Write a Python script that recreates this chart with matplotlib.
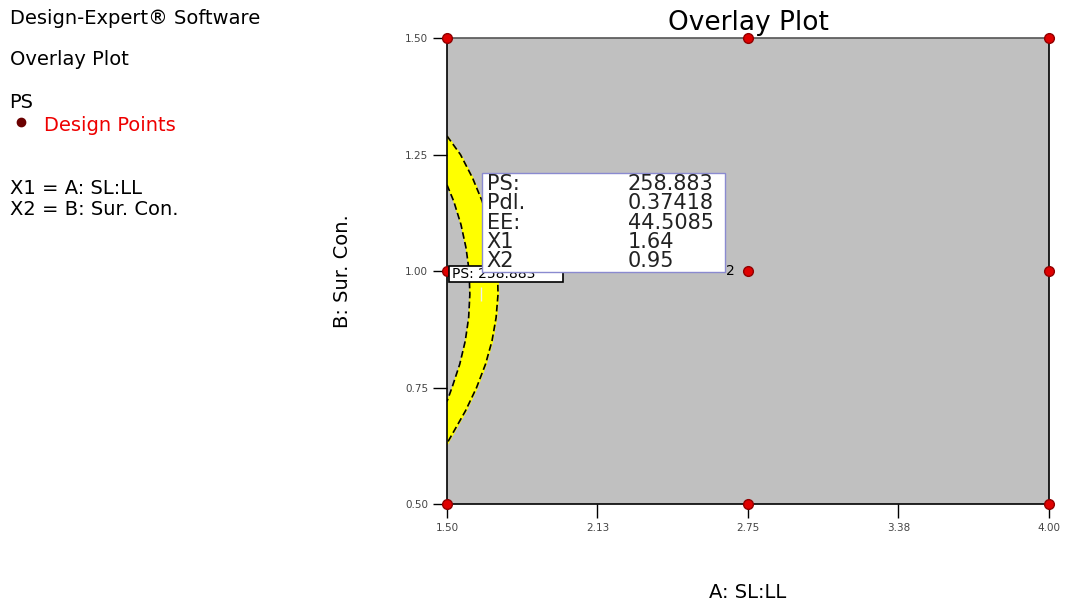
import matplotlib
matplotlib.use("Agg")
import matplotlib.pyplot as plt
import numpy as np

plt.rcParams['font.family'] = ['DejaVu Sans']

# design points (A: SL:LL, B: Sur. Con.)
design_a = [1.50, 2.75, 4.00, 1.50, 4.00, 1.50, 2.75, 4.00]
design_b = [1.50, 1.50, 1.50, 1.00, 1.00, 0.50, 0.50, 0.50]
center_pt = (2.75, 1.00)
center_reps = "2"

# yellow window boundaries (B value -> A value)
outer_b = [1.29, 1.25, 1.20, 1.15, 1.10, 1.05, 1.00, 0.95, 0.90,
           0.85, 0.80, 0.75, 0.70, 0.65, 0.63]
outer_a = [1.500, 1.556, 1.606, 1.646, 1.677, 1.698, 1.710, 1.712, 1.704,
           1.687, 1.660, 1.623, 1.577, 1.522, 1.500]
inner_b = [1.185, 1.15, 1.10, 1.05, 1.00, 0.95, 0.90, 0.85, 0.80, 0.75, 0.72]
inner_a = [1.500, 1.528, 1.558, 1.579, 1.592, 1.595, 1.590, 1.576, 1.553,
           1.521, 1.500]

# flag
flag_pt = (1.64, 0.95)
flag_names = ["PS:", "Pdl.", "EE:", "X1", "X2"]
flag_vals = ["258.883", "0.37418", "44.5085", "1.64", "0.95"]

xticks = [1.50, 2.125, 2.75, 3.375, 4.00]
xtick_labels = ["1.50", "2.13", "2.75", "3.38", "4.00"]
yticks = [0.50, 0.75, 1.00, 1.25, 1.50]
ytick_labels = ["0.50", "0.75", "1.00", "1.25", "1.50"]

fig = plt.figure(figsize=(10.66, 6.05), dpi=100)
ax = fig.add_axes([0.4193, 0.167, 0.5647, 0.770])
ax.set_facecolor("#c0c0c0")
ax.set_xlim(1.5, 4.0)
ax.set_ylim(0.5, 1.5)

# yellow band between inner and outer curve
yy = np.linspace(min(outer_b), max(outer_b), 300)
xo = np.interp(yy, outer_b[::-1], outer_a[::-1])
xi = np.interp(yy, inner_b[::-1], inner_a[::-1])
xi = np.where((yy < min(inner_b)) | (yy > max(inner_b)), 1.5, xi)
ax.fill_betweenx(yy, xi, xo, color="#ffff00", zorder=1)
ax.plot(outer_a, outer_b, color="black", ls=(0, (4, 2)), lw=1.2, zorder=2)
ax.plot(inner_a, inner_b, color="black", ls=(0, (4, 2)), lw=1.2, zorder=2)

# design points
ax.plot(design_a, design_b, "o", ms=7, mfc="#e00000", mec="#900000",
        clip_on=False, zorder=5)
ax.plot(*center_pt, "o", ms=7, mfc="#e00000", mec="#900000", zorder=5)
ax.text(center_pt[0] - 0.055, center_pt[1], center_reps, ha="right",
        va="center", fontsize=10, zorder=5)

# flag marker
ax.plot(*flag_pt, marker="|", ms=10, color="#eeeeee", zorder=6)

# small flag label under the main flag
small = plt.Rectangle((0.003, 0.476), 0.19, 0.035, transform=ax.transAxes,
                      fc="white", ec="black", lw=1.2, zorder=6)
ax.add_patch(small)
ax.text(0.008, 0.493, "PS: 258.883", transform=ax.transAxes, fontsize=10,
        ha="left", va="center", zorder=6)

# main flag box
box = plt.Rectangle((0.058, 0.498), 0.404, 0.212, transform=ax.transAxes,
                    fc="white", ec="#8a8ad0", lw=1, zorder=7)
ax.add_patch(box)
for i, (n, v) in enumerate(zip(flag_names, flag_vals)):
    yf = 0.687 - i * 0.0415
    ax.text(0.066, yf, n, transform=ax.transAxes, fontsize=15,
            va="center", ha="left", color="#222222", zorder=8)
    ax.text(0.300, yf, v, transform=ax.transAxes, fontsize=15,
            va="center", ha="left", color="#222222", zorder=8)

ax.set_xticks(xticks)
ax.set_xticklabels(xtick_labels)
ax.set_yticks(yticks)
ax.set_yticklabels(ytick_labels)
ax.tick_params(direction="out", length=10, width=1, labelsize=7.5,
               labelcolor="#444444")
for s in ax.spines.values():
    s.set_linewidth(1.2)
ax.spines["top"].set_color("#555555")

ax.set_title("Overlay Plot", fontsize=19, pad=6)
ax.set_xlabel("A: SL:LL", fontsize=14, labelpad=36)
ax.set_ylabel("B: Sur. Con.", fontsize=14, labelpad=38)

# left info panel
fig.text(0.009, 0.970, "Design-Expert\u00ae Software", fontsize=14, va="center")
fig.text(0.009, 0.901, "Overlay Plot", fontsize=14, va="center")
fig.text(0.009, 0.831, "PS", fontsize=14, va="center")
fig.lines.append(plt.Line2D([0.020], [0.799], marker="o", ms=6,
                            mfc="#6b0000", mec="#6b0000",
                            transform=fig.transFigure))
fig.text(0.041, 0.793, "Design Points", fontsize=14, color="#ee0000",
         va="center")
fig.text(0.009, 0.689, "X1 = A: SL:LL", fontsize=14, va="center")
fig.text(0.009, 0.653, "X2 = B: Sur. Con.", fontsize=14, va="center")

fig.savefig("out.png", dpi=100)
